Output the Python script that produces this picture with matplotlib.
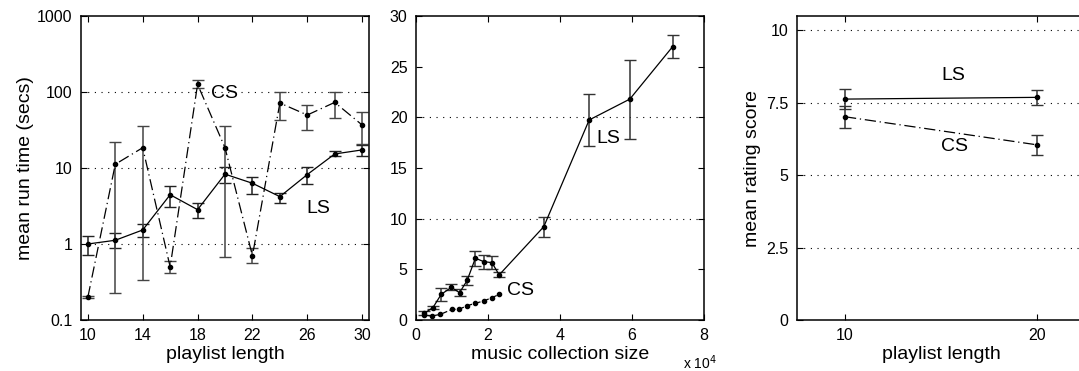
import matplotlib
matplotlib.use('Agg')
import matplotlib.pyplot as plt

plt.rcParams['font.family'] = ['Liberation Sans', 'DejaVu Sans']
plt.rcParams['font.size'] = 11

# panel 1: run time vs playlist length (log scale)
plen = [10, 12, 14, 16, 18, 20, 22, 24, 26, 28, 30]
ls_time = [1.0, 1.12, 1.53, 4.45, 2.83, 8.3, 6.3, 4.2, 8.2, 15.3, 17.3]
ls_time_hi = [1.27, 1.38, 1.81, 5.8, 3.46, 10.4, 7.7, 4.7, 10.2, 16.9, 20.0]
ls_time_lo = [0.71, 0.88, 1.24, 3.04, 2.2, 6.3, 4.6, 3.43, 6.1, 14.4, 14.6]
cs_time = [0.2, 11.2, 18.5, 0.5, 126, 18.5, 0.7, 71.6, 49.8, 73, 36.8]
cs_time_hi = [0.205, 22.2, 36, 0.6, 143, 35.7, 0.88, 100, 68, 101, 54]
cs_time_lo = [0.195, 0.23, 0.34, 0.41, 112, 0.68, 0.56, 42.8, 31.3, 45, 21]

# panel 2: run time vs music collection size (x 10^4)
coll_ls = [0.23, 0.47, 0.70, 0.98, 1.21, 1.42, 1.65, 1.88, 2.11, 2.31, 3.55, 4.81, 5.94, 7.13]
ls_coll = [0.66, 1.22, 2.53, 3.22, 2.7, 3.9, 6.1, 5.76, 5.66, 4.45, 9.21, 19.74, 21.8, 26.98]
ls_coll_err = [0.2, 0.15, 0.65, 0.3, 0.35, 0.4, 0.75, 0.68, 0.65, 0.25, 1.0, 2.55, 3.9, 1.15]
coll_cs = [0.23, 0.44, 0.68, 1.0, 1.19, 1.42, 1.65, 1.88, 2.11, 2.31]
cs_coll = [0.49, 0.39, 0.56, 1.05, 1.05, 1.41, 1.65, 1.88, 2.2, 2.53]

# panel 3: rating score vs playlist length
rlen = [10, 20]
ls_rate = [7.63, 7.69]
ls_rate_hi = [7.98, 7.94]
ls_rate_lo = [7.29, 7.41]
cs_rate = [7.02, 6.05]
cs_rate_hi = [7.40, 6.39]
cs_rate_lo = [6.64, 5.69]

dashdot = (0, (9, 3, 1, 3))
grid_kw = dict(color='black', linewidth=0.8, linestyle=(0, (1, 5)), zorder=0)
LBL = 14
TXT = 14


def style(ax):
    ax.tick_params(direction='in', top=True, right=True, length=4, width=0.8,
                   labelsize=11.5, pad=6)
    for s in ax.spines.values():
        s.set_linewidth(1.1)


fig = plt.figure(figsize=(10.79, 3.71), dpi=100)
W, H = 1079, 371
bot = (H - 320) / H
hgt = 304 / H
wid = 288 / W

# ---- panel 1
ax1 = fig.add_axes([81 / W, bot, wid, hgt])
ax1.set_yscale('log')
for g in [1, 10, 100]:
    ax1.axhline(g, **grid_kw)
ax1.errorbar(plen, ls_time,
             yerr=[[m - l for m, l in zip(ls_time, ls_time_lo)],
                   [h - m for m, h in zip(ls_time, ls_time_hi)]],
             color='black', ecolor='#222222', lw=0.9, elinewidth=1.1,
             capsize=4.5, marker='o', ms=3)
ax1.errorbar(plen, cs_time,
             yerr=[[m - l for m, l in zip(cs_time, cs_time_lo)],
                   [h - m for m, h in zip(cs_time, cs_time_hi)]],
             color='black', ecolor='#444444', lw=0.9, elinewidth=1.1,
             capsize=4.5, marker='o', ms=3, linestyle=dashdot)
ax1.set_xlim(9.5, 30.5)
ax1.set_ylim(0.1, 1000)
ax1.set_xticks([10, 14, 18, 22, 26, 30])
ax1.set_yticks([0.1, 1, 10, 100, 1000])
ax1.set_yticklabels(['0.1', '1', '10', '100', '1000'])
ax1.minorticks_off()
ax1.set_xlabel('playlist length', fontsize=LBL, labelpad=2)
ax1.set_ylabel('mean run time (secs)', fontsize=LBL, labelpad=2)
ax1.text(19.0, 97, 'CS', fontsize=TXT, va='center')
ax1.text(25.9, 2.96, 'LS', fontsize=TXT, va='center')
style(ax1)

# ---- panel 2
ax2 = fig.add_axes([416 / W, bot, wid, hgt])
for g in [10, 20]:
    ax2.axhline(g, **grid_kw)
ax2.errorbar(coll_ls, ls_coll, yerr=ls_coll_err, color='black', ecolor='#333333',
             lw=0.9, elinewidth=1.1, capsize=4.5, marker='o', ms=3)
ax2.plot(coll_cs, cs_coll, color='black', lw=0.9, marker='o', ms=3,
         linestyle=(0, (5, 2)))
ax2.set_xlim(0, 8)
ax2.set_ylim(0, 30)
ax2.set_xticks([0, 2, 4, 6, 8])
ax2.set_yticks([0, 5, 10, 15, 20, 25, 30])
ax2.set_xlabel('music collection size', fontsize=LBL, labelpad=2)
ax2.text(5.02, 17.9, 'LS', fontsize=TXT, va='center')
ax2.text(2.52, 2.96, 'CS', fontsize=TXT, va='center')
fig.text(683 / W, 1 - 369 / H, r'x 10$^4$', fontsize=10, ha='left', va='baseline')
style(ax2)

# ---- panel 3 (right edge runs past the figure)
ax3 = fig.add_axes([797 / W, bot, wid, hgt])
for g in [2.5, 5, 7.5, 10]:
    ax3.axhline(g, **grid_kw)
ax3.errorbar(rlen, ls_rate,
             yerr=[[m - l for m, l in zip(ls_rate, ls_rate_lo)],
                   [h - m for m, h in zip(ls_rate, ls_rate_hi)]],
             color='black', ecolor='#333333', lw=0.9, elinewidth=1.1,
             capsize=4.5, marker='o', ms=3)
ax3.errorbar(rlen, cs_rate,
             yerr=[[m - l for m, l in zip(cs_rate, cs_rate_lo)],
                   [h - m for m, h in zip(cs_rate, cs_rate_hi)]],
             color='black', ecolor='#333333', lw=0.9, elinewidth=1.1,
             capsize=4.5, marker='o', ms=3, linestyle=dashdot)
ax3.set_xlim(7.5, 22.5)
ax3.set_ylim(0, 10.5)
ax3.set_xticks([10, 20])
ax3.set_yticks([0, 2.5, 5, 7.5, 10])
ax3.set_yticklabels(['0', '2.5', '5', '7.5', '10'])
ax3.set_xlabel('playlist length', fontsize=LBL, labelpad=2)
ax3.set_ylabel('mean rating score', fontsize=LBL, labelpad=4)
ax3.text(15.66, 8.43, 'LS', fontsize=TXT, ha='center', va='center')
ax3.text(15.7, 5.98, 'CS', fontsize=TXT, ha='center', va='center')
style(ax3)

fig.savefig('out.png', dpi=100)
